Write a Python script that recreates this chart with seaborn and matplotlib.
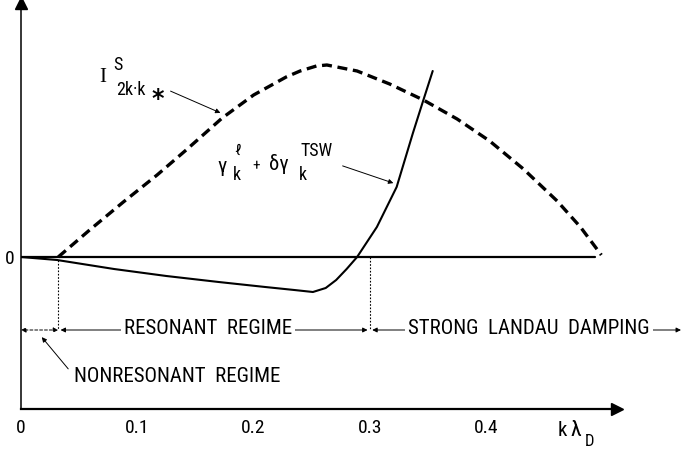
import matplotlib
matplotlib.use("Agg")
import matplotlib.pyplot as plt
import pandas as pd
import seaborn as sns

# ---------------- data ----------------
# dashed curve  I^S_{2k.k*}
k_intensity = [0.032, 0.059, 0.088, 0.117, 0.142, 0.173, 0.200, 0.228, 0.240,
               0.254, 0.263, 0.289, 0.317, 0.346, 0.375, 0.403, 0.432, 0.461,
               0.481, 0.499]
intensity = [0, 27, 55, 82, 107, 139, 162, 180, 186, 191, 192, 186, 173, 157,
             138, 116, 88, 56, 30, 2]

# solid curve  gamma_k^l + delta gamma_k^TSW
k_growth = [0, 0.031, 0.08, 0.125, 0.17, 0.21, 0.235, 0.251, 0.262, 0.271,
            0.28, 0.289, 0.306, 0.323, 0.337, 0.346, 0.354]
growth = [0, -3, -12, -19, -25, -30, -33, -35, -31, -23, -12, 0, 30, 70, 124,
          157, 186]

# zero reference line
k_zero = [0, 0.4935]
zero = [0, 0]

# regime boundaries
k_nonres_end = 0.032
k_res_end = 0.30

x_ticks = [0, 0.1, 0.2, 0.3, 0.4]
x_tick_labels = ["0", "0.1", "0.2", "0.3", "0.4"]

# ---------------- figure ----------------
W, H = 681, 449
sns.set_style("white")
plt.rcParams["font.family"] = ["Roboto Condensed", "Archivo Narrow",
                               "Barlow Semi Condensed", "DejaVu Sans"]
plt.rcParams["text.color"] = "black"
plt.rcParams["xtick.color"] = "black"
plt.rcParams["ytick.color"] = "black"

fig = plt.figure(figsize=(W / 100, H / 100), dpi=100)
ax = fig.add_axes([21 / W, (H - 409) / H, (617 - 21) / W, (409 - 3) / H])
ax.set_xlim(0, (617 - 21) / 1163)
ax.set_ylim(257 - 409, 257 - 3)

def fp(x, y):
    """pixel position -> figure fraction"""
    return (x / W, 1 - y / H)

df_i = pd.DataFrame({"k": k_intensity, "v": intensity})
df_g = pd.DataFrame({"k": k_growth, "v": growth})
df_z = pd.DataFrame({"k": k_zero, "v": zero})

sns.lineplot(data=df_z, x="k", y="v", ax=ax, color="black", lw=1.6, sort=False)
sns.lineplot(data=df_g, x="k", y="v", ax=ax, color="black", lw=1.5, sort=False)
sns.lineplot(data=df_i, x="k", y="v", ax=ax, color="black", lw=2.4, sort=False)
ax.lines[-1].set_linestyle((0, (3.0, 1.7)))
ax.lines[-1].set_dash_capstyle("butt")

# axes styling
for s in ["top", "right"]:
    ax.spines[s].set_visible(False)
ax.spines["left"].set_linewidth(1.1)
ax.spines["bottom"].set_linewidth(1.6)
ax.spines["left"].set_color("black")
ax.spines["bottom"].set_color("black")
ax.set_xticks(x_ticks)
ax.set_xticklabels(x_tick_labels)
ax.set_yticks([0])
ax.set_yticklabels(["0"])
ax.tick_params(axis="x", direction="in", length=6.5, width=1.2, pad=7,
               labelsize=14)
ax.tick_params(axis="y", length=0, pad=5, labelsize=14)
ax.xaxis.get_major_ticks()[0].tick1line.set_visible(False)
ax.set_xlabel("")
ax.set_ylabel("")

# axis arrowheads
ax.plot([1.0], [0], marker=">", ms=9, color="black", transform=ax.transAxes,
        clip_on=False)
ax.plot([0], [1.0], marker="^", ms=9, color="black", transform=ax.transAxes,
        clip_on=False)

# regime dotted verticals
ax.plot([k_nonres_end, k_nonres_end], [-3, -73], color="black", lw=0.8,
        ls=(0, (1.5, 1.5)))
ax.plot([k_res_end, k_res_end], [0, -73], color="black", lw=0.8,
        ls=(0, (1.5, 1.5)))

# regime arrows
yr = -73
arr = dict(arrowstyle="<|-|>", color="black", lw=0.7, mutation_scale=7,
           shrinkA=0, shrinkB=0)
ax.annotate("", xy=(0, yr), xytext=(k_nonres_end, yr),
            arrowprops=dict(arr, ls=(0, (3, 2))))
ax.annotate("", xy=(k_nonres_end + 0.002, yr), xytext=(k_res_end - 0.002, yr),
            arrowprops=arr)
ax.annotate("", xy=(k_res_end + 0.002, yr), xytext=((681 - 21) / 1163, yr),
            arrowprops=arr, annotation_clip=False)

tfont = dict(fontsize=15, color="black", ha="center", va="center")
bbox = dict(boxstyle="square,pad=0.15", fc="white", ec="none")
fig.text(*fp(208, 329), "RESONANT  REGIME", bbox=bbox, **tfont)
fig.text(*fp(529, 329), "STRONG  LANDAU  DAMPING", bbox=bbox, **tfont)
fig.text(*fp(177, 377), "NONRESONANT  REGIME", **tfont)
fig.add_artist(matplotlib.patches.FancyArrowPatch(
    fp(70, 371), fp(40, 335), transform=fig.transFigure,
    arrowstyle="-|>", mutation_scale=7, color="black", lw=0.7))

# I^S_{2k.k*} label
fig.text(*fp(103, 78), "I", family="Liberation Serif", fontsize=15,
         ha="center", va="center")
fig.text(*fp(118, 65), "S", fontsize=13, ha="center", va="center")
fig.text(*fp(131, 90), "2k·k", fontsize=13, ha="center", va="center")
fig.text(*fp(158, 99), "*", fontsize=17, ha="center", va="center",
         family="DejaVu Sans", weight="bold")
fig.add_artist(matplotlib.patches.FancyArrowPatch(
    fp(168, 90), fp(223, 114), transform=fig.transFigure,
    arrowstyle="-|>", mutation_scale=7, color="black", lw=0.7))

# gamma label
fig.text(*fp(222, 166), "γ", fontsize=15, ha="center", va="center")
fig.text(*fp(237, 151), "ℓ", fontsize=11, ha="center", va="center")
fig.text(*fp(237, 175), "k", fontsize=13, ha="center", va="center")
fig.text(*fp(256, 166), "+", fontsize=11, ha="center", va="center")
fig.text(*fp(279, 164), "δγ", fontsize=15, ha="center", va="center")
fig.text(*fp(317, 151), "TSW", fontsize=13, ha="center", va="center")
fig.text(*fp(303, 175), "k", fontsize=13, ha="center", va="center")
fig.add_artist(matplotlib.patches.FancyArrowPatch(
    fp(340, 165), fp(396, 184), transform=fig.transFigure,
    arrowstyle="-|>", mutation_scale=7, color="black", lw=0.7))

# k lambda_D axis label
fig.text(*fp(562, 431), "k", fontsize=15, ha="center", va="center")
fig.text(*fp(576, 430), "λ", fontsize=16, ha="center", va="center")
fig.text(*fp(589, 441), "D", fontsize=12, ha="center", va="center")

fig.savefig("out.png", dpi=100)
